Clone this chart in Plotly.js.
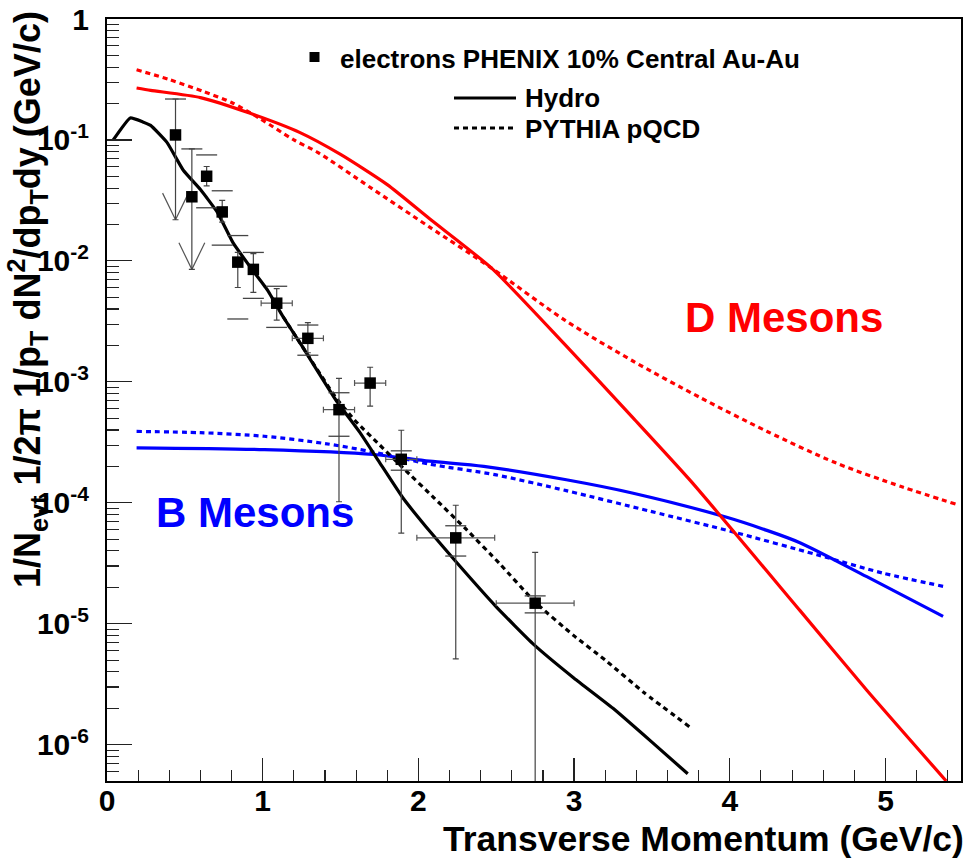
<!DOCTYPE html>
<html>
<head>
<meta charset="utf-8">
<script src="https://cdn.plot.ly/plotly-3.0.1.min.js"></script>
<style>html,body{margin:0;padding:0;background:#fff;}#chart{width:969px;height:862px;}</style>
</head>
<body>
<div id="chart"></div>
<script>
// ---------- DATA ----------
// PHENIX electrons (10% central Au-Au)
const ptX      = [0.44, 0.545, 0.64, 0.74, 0.84, 0.94, 1.09, 1.29, 1.49, 1.69, 1.89, 2.24, 2.75];
const ptY      = [0.110, 0.0339, 0.0501, 0.0254, 0.00977, 0.00851, 0.00447, 0.00229, 5.89e-4, 9.77e-4, 2.29e-4, 5.13e-5, 1.48e-5];
const ptXerr   = [0, 0, 0, 0, 0, 0, 0.1, 0.1, 0.1, 0.1, 0.1, 0.25, 0.25];
const statHi   = [0.218, 0.0843, 0.0603, 0.0316, 0.01175, 0.01148, 0.00589, 0.00309, 0.00107, 0.00132, 3.98e-4, 9.55e-5, 3.89e-5];
const statLo   = [0.0219, 0.00851, 0.0417, 0.0209, 0.00603, 0.0055, 0.00324, 0.00174, 1.02e-4, 6.31e-4, 5.62e-5, 5.13e-6, 1e-8];
const sysHi    = [0.218, 0.0843, 0.0752, 0.0380, 0.0162, 0.01175, 0.00617, 0.00295, 8.13e-4, null, 2.69e-4, 6.46e-5, 1.70e-5];
const sysLo    = [null, null, 0.0275, 0.0135, 0.00331, 0.0049, 0.00282, 0.00166, 3.55e-4, null, 1.86e-4, 3.63e-5, 1.23e-5];
// upper-limit arrows (x, arrow tip)
const limitX   = [0.44, 0.545];
const limitTip = [0.0219, 0.00851];

// Hydro electrons (black solid)
const hydroEx = [0.04, 0.15, 0.23, 0.28, 0.385, 0.49, 0.60, 0.71, 0.81, 0.92, 1.03, 1.13, 1.25, 1.47, 1.625, 1.75, 1.90, 2.05, 2.25, 2.50, 2.74, 3.00, 3.25, 3.50, 3.73];
const hydroEy = [0.100, 0.152, 0.141, 0.132, 0.0955, 0.0562, 0.0389, 0.0251, 0.0141, 0.00891, 0.00575, 0.00347, 0.00200, 7.08e-4, 3.80e-4, 2.16e-4, 1.10e-4, 6.31e-5, 3.16e-5, 1.38e-5, 6.76e-6, 3.55e-6, 2.00e-6, 1.05e-6, 5.75e-7];
// PYTHIA electrons (black dashed)
const pythEx = [1.13, 1.25, 1.47, 1.60, 1.75, 1.90, 2.10, 2.30, 2.52, 2.75, 3.00, 3.20, 3.45, 3.74];
const pythEy = [3.47e-3, 2.0e-3, 7.41e-4, 4.68e-4, 3.02e-4, 1.95e-4, 1.10e-4, 6.17e-5, 3.16e-5, 1.51e-5, 7.94e-6, 5.01e-6, 2.69e-6, 1.41e-6];
// D mesons hydro (red solid)
const hydroDx = [0.19, 0.28, 0.60, 0.92, 1.24, 1.50, 1.80, 2.07, 2.47, 2.94, 3.38, 3.75, 4.45, 4.88, 5.39];
const hydroDy = [0.269, 0.257, 0.224, 0.166, 0.115, 0.0759, 0.0427, 0.0224, 0.00871, 0.00204, 5.01e-4, 1.51e-4, 1.29e-5, 2.82e-6, 5.01e-7];
// D mesons PYTHIA (red dashed)
const pythDx = [0.19, 0.40, 0.62, 0.80, 0.98, 1.20, 1.35, 1.70, 2.07, 2.47, 2.94, 3.38, 3.81, 4.24, 4.68, 5.11, 5.45];
const pythDy = [0.380, 0.316, 0.251, 0.204, 0.151, 0.100, 0.0794, 0.0398, 0.0191, 0.00871, 0.00324, 0.00148, 7.41e-4, 3.89e-4, 2.14e-4, 1.35e-4, 9.77e-5];
// B mesons hydro (blue solid)
const hydroBx = [0.19, 1.01, 1.71, 2.07, 2.42, 2.95, 3.38, 3.98, 4.22, 4.45, 4.88, 5.37];
const hydroBy = [2.85e-4, 2.75e-4, 2.51e-4, 2.21e-4, 2.00e-4, 1.55e-4, 1.20e-4, 7.59e-5, 6.03e-5, 4.68e-5, 2.45e-5, 1.15e-5];
// B mesons PYTHIA (blue dashed)
const pythBx = [0.19, 0.60, 1.01, 1.40, 1.71, 2.07, 2.50, 2.95, 3.49, 4.02, 4.56, 4.98, 5.37];
const pythBy = [3.89e-4, 3.80e-4, 3.55e-4, 3.09e-4, 2.63e-4, 2.09e-4, 1.70e-4, 1.26e-4, 8.51e-5, 5.75e-5, 3.72e-5, 2.63e-5, 2.04e-5];

// axis ticks
const xTickVals = [0, 1, 2, 3, 4, 5];
const xTickText = ['0', '1', '2', '3', '4', '5'];
const yTickVals = [1e-6, 1e-5, 1e-4, 1e-3, 1e-2, 1e-1, 1];
const yTickText = ['10<sup>-6</sup>', '10<sup>-5</sup>', '10<sup>-4</sup>', '10<sup>-3</sup>', '10<sup>-2</sup>', '10<sup>-1</sup>', '1'];

// ---------- BUILD ----------
const FONT = 'Liberation Sans, Arial, Helvetica, sans-serif';
const DASH = '5px,4px';
const XRANGE = [0, 5.485], YRANGE = [-6.3, 0];

const xMinor = [];
for (let v = 0.2; v < 5.5; v += 0.2) { const r = Math.round(v * 10) / 10; if (Math.abs(r - Math.round(r)) > 1e-6) xMinor.push(r); }
const yMinor = [];
for (let e = -7; e <= -1; e++) for (let m = 2; m <= 9; m++) yMinor.push(m * Math.pow(10, e));

const arrowX = [], arrowY = [];
limitX.forEach((x, i) => {
  const tip = limitTip[i], top = tip * Math.pow(10, 0.22), hw = 0.083;
  arrowX.push(x - hw, x, x + hw, null);
  arrowY.push(top, tip, top, null);
});

const sysX = [], sysY = [];
ptX.forEach((x, i) => {
  if (sysHi[i] != null) { sysX.push(x); sysY.push(sysHi[i]); }
  if (sysLo[i] != null) { sysX.push(x); sysY.push(sysLo[i]); }
});

const line = (x, y, color, dash, sm) => ({
  type: 'scatter', mode: 'lines', x, y, hoverinfo: 'skip', showlegend: false,
  line: { color, width: 3.2, dash: dash || 'solid', shape: 'spline', smoothing: sm }
});

const traces = [
  // helper traces so the minor-tick axes are drawn
  { type: 'scatter', mode: 'markers', x: [null], y: [null], xaxis: 'x2', yaxis: 'y', showlegend: false, hoverinfo: 'skip' },
  { type: 'scatter', mode: 'markers', x: [null], y: [null], xaxis: 'x', yaxis: 'y2', showlegend: false, hoverinfo: 'skip' },
  line(pythBx, pythBy, '#0000ff', DASH, 0.8),
  line(hydroBx, hydroBy, '#0000ff', null, 0.8),
  line(pythDx, pythDy, '#ff0000', DASH, 0.8),
  line(hydroDx, hydroDy, '#ff0000', null, 0.6),
  line(pythEx, pythEy, '#000000', DASH, 0.5),
  line(hydroEx, hydroEy, '#000000', null, 0.4),
  { type: 'scatter', mode: 'lines', x: arrowX, y: arrowY, showlegend: false, hoverinfo: 'skip',
    line: { color: '#555', width: 1.2 } },
  { type: 'scatter', mode: 'markers', x: sysX, y: sysY, showlegend: false, hoverinfo: 'skip',
    marker: { symbol: 'line-ew', size: 15, line: { color: '#444', width: 1.3 } } },
  { type: 'scatter', mode: 'markers', x: ptX, y: ptY, showlegend: false,
    marker: { symbol: 'square', size: 11.5, color: '#000' },
    error_y: { type: 'data', symmetric: false,
      array: ptY.map((v, i) => statHi[i] - v), arrayminus: ptY.map((v, i) => v - statLo[i]),
      color: '#444', thickness: 1.2, width: 3 },
    error_x: { type: 'data', array: ptXerr, color: '#555', thickness: 1.2, width: 3 } }
];

const px = v => (v - 107) / 854, py = v => (781 - v) / 762;

const layout = {
  width: 969, height: 862,
  margin: { l: 107, r: 8, t: 19, b: 81 },
  paper_bgcolor: '#fff', plot_bgcolor: '#fff',
  showlegend: false,
  font: { family: FONT, color: '#000' },
  xaxis: {
    range: XRANGE, tickmode: 'array', tickvals: xTickVals, ticktext: xTickText,
    ticks: 'inside', ticklen: 23, tickwidth: 1.2, tickcolor: '#222',
    showline: true, linecolor: '#000', linewidth: 2, mirror: true,
    showgrid: false, zeroline: false, ticklabelstandoff: -8,
    tickfont: { family: FONT, size: 30, color: '#000', weight: 'bold' }
  },
  xaxis2: {
    overlaying: 'x', anchor: 'y', side: 'bottom', range: XRANGE,
    tickmode: 'array', tickvals: xMinor, showticklabels: false,
    ticks: 'inside', ticklen: 11, tickwidth: 1.1, tickcolor: '#222',
    showline: false, showgrid: false, zeroline: false
  },
  yaxis: {
    type: 'log', range: YRANGE, tickmode: 'array', tickvals: yTickVals, ticktext: yTickText,
    ticks: 'inside', ticklen: 25, tickwidth: 1.2, tickcolor: '#222',
    showline: true, linecolor: '#000', linewidth: 2, mirror: true,
    showgrid: false, zeroline: false, ticklabelstandoff: 10,
    tickfont: { family: FONT, size: 30, color: '#000', weight: 'bold' }
  },
  yaxis2: {
    overlaying: 'y', anchor: 'x', side: 'left', type: 'log', range: YRANGE,
    tickmode: 'array', tickvals: yMinor, showticklabels: false,
    ticks: 'inside', ticklen: 12, tickwidth: 1.1, tickcolor: '#222',
    showline: false, showgrid: false, zeroline: false
  },
  shapes: [
    { type: 'rect', xref: 'paper', yref: 'paper', x0: px(309.5), x1: px(319.5), y0: py(62), y1: py(52),
      fillcolor: '#000', line: { width: 0 } },
    { type: 'line', xref: 'paper', yref: 'paper', x0: px(454), x1: px(516), y0: py(98), y1: py(98),
      line: { color: '#000', width: 3.2 } },
    { type: 'line', xref: 'paper', yref: 'paper', x0: px(454), x1: px(516), y0: py(128), y1: py(128),
      line: { color: '#000', width: 3.2, dash: DASH } }
  ],
  annotations: [
    { xref: 'paper', yref: 'paper', x: px(338), y: py(59), xanchor: 'left', yanchor: 'middle', showarrow: false,
      text: 'electrons PHENIX 10% Central Au-Au', font: { family: FONT, size: 26, color: '#000', weight: 'bold' } },
    { xref: 'paper', yref: 'paper', x: px(523), y: py(98), xanchor: 'left', yanchor: 'middle', showarrow: false,
      text: 'Hydro', font: { family: FONT, size: 26, color: '#000', weight: 'bold' } },
    { xref: 'paper', yref: 'paper', x: px(523), y: py(129), xanchor: 'left', yanchor: 'middle', showarrow: false,
      text: 'PYTHIA pQCD', font: { family: FONT, size: 26, color: '#000', weight: 'bold' } },
    { xref: 'x', yref: 'y', x: 4.35, y: -2.47, xanchor: 'center', yanchor: 'middle', showarrow: false,
      text: 'D Mesons', font: { family: FONT, size: 42, color: '#ff0000', weight: 'bold' } },
    { xref: 'x', yref: 'y', x: 0.95, y: -4.08, xanchor: 'center', yanchor: 'middle', showarrow: false,
      text: 'B Mesons', font: { family: FONT, size: 42, color: '#0000ff', weight: 'bold' } },
    { xref: 'paper', yref: 'paper', x: px(966), y: py(861), xanchor: 'right', yanchor: 'bottom', showarrow: false,
      text: 'Transverse Momentum (GeV/c)', font: { family: FONT, size: 35.5, color: '#000', weight: 'bold' } },
    { xref: 'paper', yref: 'paper', x: px(27), y: py(300), xanchor: 'center', yanchor: 'middle', showarrow: false, textangle: -90,
      text: '1/N<sub>evt</sub> 1/2π 1/p<sub>T</sub> dN<sup>2</sup>/dp<sub>T</sub>dy (GeV/c)',
      font: { family: FONT, size: 36, color: '#000', weight: 'bold' } }
  ]
};

Plotly.newPlot('chart', traces, layout, { staticPlot: true, displayModeBar: false });
</script>
</body>
</html>
